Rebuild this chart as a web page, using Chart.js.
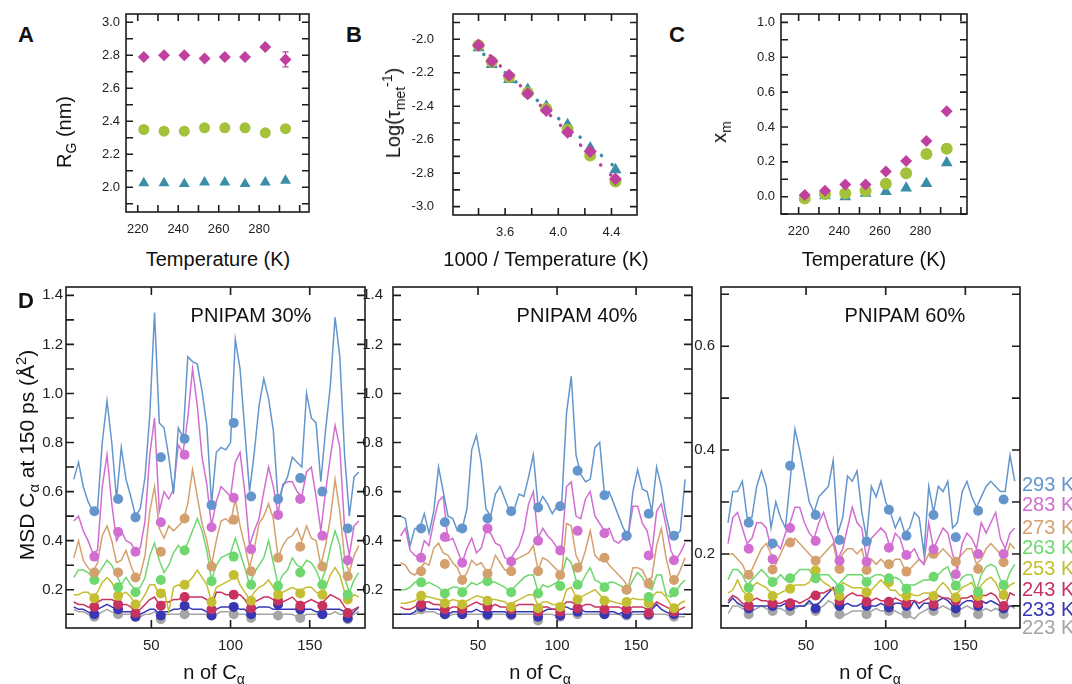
<!DOCTYPE html>
<html>
<head>
<meta charset="utf-8">
<script src="https://cdn.jsdelivr.net/npm/chart.js@4.4.1/dist/chart.umd.min.js"></script>
<style>
  body { margin: 0; width: 1072px; height: 684px; overflow: hidden; position: relative; background: #fff;
         font-family: "Liberation Sans", Arial, Helvetica, sans-serif; color: #111; }
  .panel { position: absolute; }
  .txt { position: absolute; white-space: nowrap; line-height: 1; }
  sub, sup { font-size: 0.7em; line-height: 0; }
</style>
</head>
<body>
<script>
// ---- top row: temperatures and the three series (diamond / circle / triangle)
const tempK = [223, 233, 243, 253, 263, 273, 283, 293];
const rgDiamond = [2.79, 2.80, 2.80, 2.78, 2.79, 2.79, 2.85, 2.775];
const rgDiamondErr = [0, 0, 0, 0, 0, 0, 0, 0.045];
const rgCircle = [2.35, 2.34, 2.34, 2.36, 2.36, 2.36, 2.33, 2.355];
const rgTriangle = [2.025, 2.025, 2.02, 2.03, 2.03, 2.02, 2.03, 2.04];

const invTemp = [3.40, 3.50, 3.63, 3.77, 3.91, 4.07, 4.24, 4.43];
const logDiamond = [-2.035, -2.13, -2.215, -2.325, -2.425, -2.555, -2.67, -2.835];
const logCircle = [-2.035, -2.135, -2.225, -2.32, -2.415, -2.54, -2.695, -2.85];
const logTriangle = [-2.05, -2.15, -2.24, -2.30, -2.40, -2.51, -2.65, -2.78];
const fitTriX = [3.44, 4.45], fitTriY = [-2.09, -2.78];
const fitDiaX = [3.45, 4.42], fitDiaY = [-2.07, -2.83];

const xmDiamond = [0.01, 0.035, 0.07, 0.07, 0.145, 0.205, 0.32, 0.49];
const xmCircle = [-0.01, 0.015, 0.02, 0.035, 0.075, 0.135, 0.245, 0.275];
const xmTriangle = [-0.005, 0.005, 0.0, 0.02, 0.03, 0.05, 0.075, 0.195];

// ---- panel D: residue index, marked residues, temperatures
const residues = [1,4,7,10,13,16,19,22,25,28, 31,34,37,40,43,46,49,52,55,58,
  61,64,67,70,73,76,79,82,85,88, 91,94,97,100,103,106,109,112,115,118,
  121,124,127,130,133,136,139,142,145,148, 151,154,157,160,163,166,169,172,175,178, 181];
const markerResidues = [14, 29, 40, 56, 71, 88, 102, 113, 130, 144, 158, 174];
const tempLabels = ['293 K', '283 K', '273 K', '263 K', '253 K', '243 K', '233 K', '223 K'];

// PNIPAM 30%
const p30_293 = [0.65,0.72,0.62,0.56,0.52,0.53,0.80,0.97,0.80,0.57, 0.78,0.65,0.58,0.50,0.53,0.66,0.91,1.33,0.88,0.86,
  0.74,0.59,0.86,0.82,1.15,1.13,1.12,1.01,0.87,0.55, 0.76,0.78,0.77,0.80,1.22,1.10,0.85,0.60,0.76,0.95,
  1.06,0.98,0.85,0.56,0.62,0.66,0.74,0.72,0.70,1.00, 0.90,0.88,0.64,0.85,1.03,1.31,1.15,0.75,0.50,0.66, 0.68];
const p30_283 = [0.48,0.50,0.44,0.40,0.35,0.36,0.62,0.75,0.55,0.40, 0.44,0.40,0.39,0.36,0.37,0.48,0.75,0.90,0.52,0.60,
  0.57,0.61,0.79,0.76,0.90,1.10,0.95,0.74,0.63,0.46, 0.56,0.62,0.60,0.58,0.72,0.76,0.60,0.38,0.44,0.49,
  0.60,0.70,0.62,0.51,0.63,0.64,0.64,0.60,0.58,0.68, 0.70,0.58,0.44,0.60,0.74,0.87,0.78,0.45,0.34,0.46, 0.48];
const p30_273 = [0.33,0.40,0.32,0.29,0.27,0.31,0.42,0.46,0.40,0.31, 0.32,0.36,0.30,0.25,0.26,0.34,0.52,0.62,0.45,0.41,
  0.46,0.44,0.46,0.48,0.55,0.69,0.58,0.47,0.40,0.30, 0.40,0.48,0.49,0.47,0.57,0.46,0.38,0.29,0.37,0.47,
  0.50,0.55,0.49,0.33,0.38,0.41,0.42,0.45,0.40,0.46, 0.41,0.40,0.30,0.38,0.49,0.65,0.52,0.33,0.27,0.34, 0.38];
const p30_263 = [0.25,0.28,0.28,0.27,0.25,0.26,0.29,0.32,0.30,0.26, 0.22,0.25,0.22,0.20,0.21,0.25,0.34,0.39,0.32,0.27,
  0.30,0.35,0.38,0.36,0.39,0.44,0.49,0.44,0.36,0.24, 0.30,0.33,0.34,0.35,0.41,0.35,0.29,0.22,0.27,0.30,
  0.33,0.40,0.31,0.22,0.26,0.28,0.33,0.30,0.29,0.32, 0.31,0.28,0.23,0.28,0.37,0.44,0.38,0.25,0.19,0.24, 0.27];
const p30_253 = [0.18,0.18,0.19,0.19,0.17,0.19,0.23,0.25,0.23,0.19, 0.18,0.19,0.17,0.14,0.15,0.18,0.22,0.22,0.18,0.20,
  0.11,0.21,0.22,0.21,0.23,0.25,0.28,0.25,0.22,0.15, 0.21,0.22,0.23,0.24,0.27,0.22,0.19,0.16,0.19,0.21,
  0.22,0.24,0.21,0.18,0.19,0.20,0.21,0.20,0.20,0.21, 0.21,0.19,0.18,0.21,0.26,0.29,0.26,0.19,0.16,0.18, 0.17];
const p30_243 = [0.15,0.14,0.14,0.13,0.13,0.15,0.16,0.16,0.16,0.15, 0.14,0.14,0.13,0.11,0.12,0.14,0.16,0.17,0.14,0.15,
  0.15,0.16,0.16,0.17,0.17,0.17,0.17,0.17,0.16,0.13, 0.19,0.19,0.18,0.18,0.18,0.18,0.16,0.13,0.15,0.16,
  0.17,0.17,0.16,0.15,0.15,0.16,0.17,0.15,0.14,0.15, 0.16,0.15,0.14,0.16,0.18,0.17,0.16,0.13,0.11,0.12, 0.13];
const p30_233 = [0.13,0.12,0.12,0.11,0.10,0.12,0.13,0.14,0.13,0.12, 0.11,0.11,0.11,0.09,0.10,0.11,0.12,0.12,0.10,0.11,
  0.11,0.12,0.12,0.13,0.13,0.12,0.12,0.12,0.11,0.09, 0.12,0.13,0.13,0.13,0.13,0.12,0.12,0.10,0.12,0.13,
  0.13,0.13,0.12,0.12,0.12,0.12,0.12,0.12,0.12,0.12, 0.12,0.11,0.11,0.12,0.12,0.12,0.12,0.11,0.09,0.11, 0.13];
const p30_223 = [0.12,0.11,0.11,0.10,0.09,0.10,0.11,0.12,0.11,0.10, 0.10,0.10,0.10,0.09,0.09,0.10,0.10,0.11,0.09,0.10,
  0.10,0.10,0.10,0.10,0.10,0.10,0.10,0.10,0.10,0.09, 0.10,0.11,0.11,0.11,0.10,0.10,0.10,0.09,0.10,0.10,
  0.10,0.10,0.10,0.09,0.10,0.10,0.10,0.09,0.09,0.10, 0.10,0.10,0.10,0.10,0.10,0.11,0.10,0.10,0.09,0.10, 0.11];
const m30_293 = [0.52,0.57,0.495,0.74,0.815,0.545,0.88,0.58,0.57,0.655,0.60,0.45];
const m30_283 = [0.335,0.435,0.355,0.475,0.75,0.455,0.575,0.365,0.505,0.57,0.42,0.32];
const m30_273 = [0.27,0.27,0.25,0.355,0.49,0.295,0.485,0.275,0.33,0.375,0.295,0.255];
const m30_263 = [0.24,0.21,0.19,0.24,0.36,0.235,0.335,0.22,0.215,0.27,0.22,0.18];
const m30_253 = [0.165,0.175,0.14,0.185,0.22,0.15,0.26,0.155,0.18,0.185,0.18,0.16];
const m30_243 = [0.13,0.14,0.105,0.135,0.17,0.12,0.18,0.125,0.155,0.135,0.135,0.105];
const m30_233 = [0.10,0.12,0.09,0.095,0.135,0.095,0.13,0.10,0.14,0.12,0.10,0.085];
const m30_223 = [0.09,0.10,0.09,0.08,0.10,0.095,0.10,0.085,0.095,0.085,0.10,0.08];

// PNIPAM 40%
const p40_293 = [0.50,0.49,0.38,0.45,0.45,0.51,0.43,0.52,0.70,0.60, 0.50,0.49,0.44,0.45,0.53,0.77,0.83,0.72,0.53,0.50,
  0.59,0.62,0.57,0.52,0.53,0.59,0.58,0.66,0.75,0.54, 0.58,0.55,0.51,0.54,0.56,0.92,1.07,0.75,0.67,0.64,
  0.65,0.78,0.80,0.59,0.60,0.55,0.50,0.45,0.42,0.60, 0.69,0.61,0.60,0.52,0.70,0.62,0.50,0.42,0.42,0.44, 0.65];
const p40_283 = [0.42,0.45,0.36,0.34,0.33,0.40,0.38,0.48,0.56,0.58, 0.40,0.41,0.36,0.31,0.37,0.41,0.35,0.37,0.44,0.43,
  0.39,0.38,0.33,0.32,0.35,0.38,0.44,0.55,0.60,0.41, 0.45,0.42,0.40,0.37,0.38,0.62,0.64,0.50,0.49,0.57,
  0.60,0.50,0.47,0.44,0.45,0.40,0.39,0.41,0.42,0.54, 0.54,0.47,0.44,0.35,0.52,0.55,0.46,0.36,0.32,0.35, 0.39];
const p40_273 = [0.31,0.30,0.27,0.26,0.28,0.31,0.30,0.37,0.39,0.35, 0.34,0.31,0.29,0.24,0.27,0.32,0.30,0.31,0.28,0.28,
  0.34,0.31,0.28,0.28,0.32,0.33,0.34,0.35,0.38,0.28, 0.33,0.32,0.30,0.28,0.27,0.47,0.46,0.34,0.30,0.36,
  0.44,0.34,0.32,0.33,0.30,0.28,0.26,0.24,0.21,0.29, 0.29,0.28,0.24,0.25,0.38,0.45,0.33,0.25,0.24,0.28, 0.33];
const p40_263 = [0.20,0.20,0.21,0.23,0.24,0.22,0.23,0.22,0.21,0.19, 0.20,0.21,0.21,0.19,0.21,0.23,0.22,0.23,0.24,0.23,
  0.23,0.22,0.21,0.19,0.21,0.23,0.25,0.26,0.26,0.19, 0.22,0.21,0.22,0.23,0.26,0.33,0.31,0.24,0.22,0.26,
  0.29,0.24,0.23,0.21,0.23,0.23,0.22,0.21,0.20,0.24, 0.27,0.25,0.21,0.20,0.26,0.26,0.18,0.17,0.19,0.22, 0.24];
const p40_253 = [0.145,0.145,0.15,0.155,0.17,0.175,0.17,0.165,0.16,0.155, 0.15,0.16,0.155,0.145,0.155,0.165,0.175,0.17,0.165,0.16,
  0.16,0.155,0.15,0.135,0.15,0.16,0.17,0.18,0.18,0.135, 0.15,0.15,0.14,0.14,0.14,0.20,0.21,0.17,0.17,0.18,
  0.19,0.20,0.18,0.16,0.155,0.15,0.145,0.14,0.155,0.165, 0.16,0.16,0.155,0.17,0.19,0.19,0.17,0.14,0.125,0.145, 0.155];
const p40_243 = [0.13,0.12,0.12,0.13,0.15,0.15,0.15,0.14,0.14,0.13, 0.12,0.13,0.13,0.12,0.13,0.14,0.15,0.14,0.14,0.13,
  0.14,0.13,0.13,0.12,0.13,0.14,0.14,0.14,0.14,0.11, 0.13,0.13,0.12,0.12,0.13,0.15,0.15,0.14,0.13,0.14,
  0.14,0.13,0.13,0.12,0.13,0.13,0.13,0.12,0.12,0.13, 0.13,0.13,0.12,0.13,0.15,0.14,0.13,0.12,0.11,0.12, 0.13];
const p40_233 = [0.10,0.10,0.10,0.11,0.13,0.13,0.12,0.12,0.12,0.11, 0.10,0.11,0.11,0.10,0.11,0.11,0.12,0.11,0.11,0.11,
  0.11,0.11,0.11,0.10,0.11,0.11,0.11,0.11,0.11,0.09, 0.11,0.12,0.12,0.12,0.13,0.13,0.12,0.12,0.12,0.11,
  0.11,0.11,0.11,0.10,0.11,0.11,0.10,0.11,0.10,0.11, 0.11,0.11,0.11,0.12,0.14,0.12,0.11,0.10,0.10,0.10, 0.10];
const p40_223 = [0.10,0.10,0.10,0.10,0.11,0.11,0.11,0.11,0.10,0.10, 0.09,0.10,0.10,0.09,0.10,0.10,0.10,0.10,0.10,0.10,
  0.10,0.10,0.10,0.09,0.10,0.10,0.10,0.10,0.10,0.08, 0.10,0.10,0.10,0.09,0.10,0.10,0.10,0.10,0.10,0.10,
  0.10,0.10,0.10,0.09,0.10,0.10,0.10,0.09,0.09,0.10, 0.10,0.10,0.10,0.10,0.10,0.10,0.10,0.09,0.09,0.09, 0.09];
const m40_293 = [0.45,0.475,0.45,0.49,0.52,0.535,0.54,0.685,0.585,0.42,0.51,0.42];
const m40_283 = [0.33,0.415,0.31,0.45,0.315,0.40,0.36,0.44,0.43,0.42,0.34,0.32];
const m40_273 = [0.275,0.305,0.24,0.265,0.275,0.275,0.26,0.29,0.33,0.20,0.225,0.24];
const m40_263 = [0.23,0.185,0.19,0.235,0.19,0.185,0.215,0.22,0.21,0.20,0.17,0.19];
const m40_253 = [0.175,0.145,0.14,0.155,0.13,0.125,0.13,0.16,0.155,0.15,0.145,0.125];
const m40_243 = [0.14,0.12,0.12,0.13,0.12,0.11,0.11,0.125,0.12,0.12,0.105,0.11];
const m40_233 = [0.13,0.10,0.10,0.10,0.10,0.09,0.095,0.11,0.10,0.10,0.10,0.10];
const m40_223 = [0.12,0.10,0.10,0.095,0.095,0.075,0.09,0.10,0.10,0.095,0.095,0.09];

// PNIPAM 60%
const p60_293 = [0.26,0.32,0.32,0.34,0.27,0.27,0.33,0.36,0.33,0.25, 0.30,0.27,0.25,0.34,0.44,0.40,0.35,0.30,0.28,0.31,
  0.32,0.33,0.38,0.24,0.27,0.35,0.34,0.36,0.28,0.23, 0.33,0.31,0.34,0.30,0.28,0.25,0.27,0.24,0.25,0.28,
  0.27,0.20,0.33,0.28,0.33,0.32,0.34,0.25,0.26,0.32, 0.34,0.31,0.29,0.31,0.33,0.34,0.33,0.32,0.32,0.39, 0.34];
const p60_283 = [0.22,0.27,0.28,0.25,0.22,0.23,0.26,0.26,0.25,0.21, 0.22,0.21,0.24,0.26,0.29,0.29,0.26,0.24,0.23,0.26,
  0.28,0.25,0.23,0.19,0.21,0.25,0.29,0.26,0.25,0.19, 0.23,0.24,0.25,0.24,0.21,0.24,0.23,0.20,0.20,0.21,
  0.19,0.18,0.26,0.21,0.23,0.25,0.24,0.20,0.17,0.22, 0.24,0.23,0.21,0.26,0.24,0.26,0.28,0.23,0.21,0.24, 0.25];
const p60_273 = [0.20,0.20,0.19,0.18,0.16,0.17,0.19,0.21,0.22,0.20, 0.18,0.20,0.22,0.22,0.23,0.22,0.21,0.20,0.19,0.19,
  0.20,0.21,0.22,0.18,0.20,0.21,0.21,0.20,0.21,0.17, 0.19,0.18,0.19,0.18,0.18,0.19,0.19,0.17,0.17,0.18,
  0.19,0.18,0.20,0.20,0.20,0.21,0.20,0.19,0.19,0.20, 0.21,0.21,0.18,0.19,0.21,0.22,0.21,0.20,0.19,0.22, 0.21];
const p60_263 = [0.15,0.17,0.17,0.16,0.14,0.15,0.16,0.17,0.16,0.15, 0.15,0.16,0.15,0.15,0.16,0.17,0.17,0.17,0.155,0.16,
  0.16,0.16,0.15,0.14,0.15,0.16,0.16,0.16,0.16,0.145, 0.155,0.16,0.16,0.155,0.15,0.155,0.15,0.135,0.14,0.14,
  0.145,0.15,0.15,0.155,0.16,0.17,0.175,0.15,0.14,0.155, 0.16,0.16,0.13,0.16,0.175,0.18,0.175,0.15,0.14,0.165, 0.18];
const p60_253 = [0.125,0.13,0.15,0.13,0.12,0.135,0.145,0.14,0.135,0.125, 0.12,0.125,0.13,0.135,0.14,0.14,0.14,0.145,0.165,0.155,
  0.145,0.14,0.13,0.12,0.145,0.14,0.135,0.135,0.135,0.12, 0.13,0.14,0.15,0.14,0.13,0.13,0.12,0.12,0.125,0.12,
  0.12,0.125,0.125,0.12,0.135,0.145,0.135,0.12,0.125,0.135, 0.14,0.145,0.125,0.14,0.15,0.155,0.145,0.125,0.13,0.14, 0.145];
const p60_243 = [0.11,0.12,0.115,0.105,0.10,0.11,0.115,0.11,0.11,0.105, 0.105,0.105,0.11,0.105,0.11,0.105,0.11,0.115,0.125,0.125,
  0.125,0.13,0.135,0.115,0.11,0.12,0.125,0.12,0.12,0.11, 0.11,0.115,0.11,0.11,0.11,0.115,0.11,0.105,0.11,0.11,
  0.105,0.11,0.115,0.105,0.12,0.115,0.115,0.11,0.11,0.115, 0.115,0.12,0.105,0.12,0.12,0.125,0.12,0.105,0.10,0.125, 0.12];
const p60_233 = [0.105,0.115,0.105,0.10,0.095,0.10,0.10,0.10,0.10,0.10, 0.10,0.10,0.105,0.10,0.10,0.10,0.10,0.11,0.10,0.105,
  0.115,0.125,0.135,0.105,0.10,0.105,0.10,0.10,0.105,0.10, 0.10,0.10,0.105,0.10,0.10,0.105,0.105,0.10,0.095,0.11,
  0.095,0.105,0.105,0.10,0.11,0.115,0.11,0.10,0.095,0.105, 0.11,0.11,0.10,0.11,0.105,0.11,0.105,0.10,0.095,0.10, 0.10];
const p60_223 = [0.085,0.10,0.10,0.095,0.09,0.09,0.095,0.10,0.095,0.09, 0.095,0.095,0.09,0.09,0.095,0.10,0.10,0.105,0.10,0.095,
  0.10,0.11,0.105,0.09,0.08,0.085,0.09,0.09,0.09,0.085, 0.09,0.095,0.09,0.09,0.09,0.09,0.085,0.085,0.08,0.075,
  0.085,0.09,0.095,0.09,0.095,0.10,0.095,0.09,0.09,0.095, 0.10,0.095,0.09,0.09,0.095,0.09,0.095,0.09,0.085,0.10, 0.095];
const m60_293 = [0.26,0.22,0.37,0.275,0.227,0.224,0.285,0.235,0.275,0.232,0.283,0.305];
const m60_283 = [0.21,0.19,0.25,0.225,0.187,0.185,0.212,0.198,0.209,0.161,0.20,0.20];
const m60_273 = [0.16,0.17,0.222,0.187,0.171,0.169,0.18,0.166,0.20,0.185,0.171,0.184];
const m60_263 = [0.135,0.146,0.153,0.153,0.133,0.146,0.153,0.133,0.156,0.139,0.127,0.14];
const m60_253 = [0.116,0.119,0.133,0.168,0.119,0.126,0.145,0.119,0.119,0.116,0.119,0.121];
const m60_243 = [0.10,0.105,0.105,0.12,0.11,0.108,0.108,0.105,0.103,0.11,0.105,0.10];
const m60_233 = [0.095,0.10,0.10,0.095,0.10,0.10,0.097,0.10,0.10,0.095,0.10,0.095];
const m60_223 = [0.084,0.09,0.09,0.09,0.084,0.084,0.09,0.085,0.09,0.087,0.084,0.084];

// ---- styles
const MAG = '#bf409f', GRN = '#a3c13b', TEAL = '#3a8ea6';
const tempColors = ['#6496cd', '#d26ed2', '#d4a06e', '#6ed76e', '#c3be32', '#c8325f', '#3737b4', '#a5a5a5'];
const FONT = '"Liberation Sans", Arial, Helvetica, sans-serif';
const PAD_L = 60, PAD_T = 12, PAD_R = 12, PAD_B = 34;

Chart.defaults.font.family = FONT;
Chart.defaults.color = '#222';
Chart.defaults.animation = false;

// frame with inward ticks on all four sides
const framePlugin = {
  id: 'frame',
  afterDatasetsDraw(chart, args, o) {
    if (!o.xMarks) return;
    const { ctx, chartArea: a, scales: { x, y } } = chart;
    ctx.save();
    ctx.strokeStyle = '#1c1c1c';
    ctx.lineWidth = 1.6;
    ctx.strokeRect(a.left, a.top, a.right - a.left, a.bottom - a.top);
    ctx.beginPath();
    o.xMarks.forEach(v => {
      const p = x.getPixelForValue(v);
      ctx.moveTo(p, a.bottom); ctx.lineTo(p, a.bottom - o.len);
      ctx.moveTo(p, a.top); ctx.lineTo(p, a.top + o.len);
    });
    o.yMarks.forEach(v => {
      const p = y.getPixelForValue(v);
      ctx.moveTo(a.left, p); ctx.lineTo(a.left + o.len, p);
      ctx.moveTo(a.right, p); ctx.lineTo(a.right - o.len, p);
    });
    ctx.stroke();
    ctx.restore();
  }
};

// vertical error bars for datasets carrying yErr
const errorBarPlugin = {
  id: 'errorBars',
  afterDatasetsDraw(chart) {
    const ctx = chart.ctx, y = chart.scales.y;
    chart.data.datasets.forEach((ds, i) => {
      if (!ds.yErr) return;
      const meta = chart.getDatasetMeta(i);
      ctx.save();
      ctx.strokeStyle = ds.pointBackgroundColor;
      ctx.lineWidth = 1.2;
      meta.data.forEach((pt, j) => {
        const e = ds.yErr[j];
        if (!e) return;
        const v = ds.data[j].y;
        const top = y.getPixelForValue(v + e), bot = y.getPixelForValue(v - e);
        ctx.beginPath();
        ctx.moveTo(pt.x, top); ctx.lineTo(pt.x, bot);
        ctx.moveTo(pt.x - 3, top); ctx.lineTo(pt.x + 3, top);
        ctx.moveTo(pt.x - 3, bot); ctx.lineTo(pt.x + 3, bot);
        ctx.stroke();
      });
      ctx.restore();
    });
  }
};
Chart.register(framePlugin, errorBarPlugin);

function pts(xs, ys) {
  return xs.map((v, i) => ({ x: v, y: ys[i] }));
}

function range(a, b, step) {
  const out = [];
  for (let v = a; v <= b + step / 2; v += step) out.push(Math.round(v * 1000) / 1000);
  return out;
}

function panelOptions(o) {
  return {
    responsive: true,
    maintainAspectRatio: false,
    events: [],
    layout: { padding: { left: 0, top: PAD_T, right: PAD_R, bottom: 0 } },
    plugins: {
      legend: { display: false },
      tooltip: { enabled: false },
      frame: { xMarks: o.xMarks, yMarks: o.yMarks, len: o.len || 7 }
    },
    scales: {
      x: {
        type: 'linear', min: o.xMin, max: o.xMax,
        grid: { display: false, drawTicks: false, tickLength: 0 },
        border: { display: false },
        afterBuildTicks: s => { s.ticks = o.xLabels.map(v => ({ value: v })); },
        afterFit: s => { s.height = PAD_B; s.paddingLeft = 0; s.paddingRight = 0; },
        ticks: { autoSkip: false, maxRotation: 0, padding: o.xPad, color: '#222',
                 font: { size: o.fs }, callback: v => o.xFmt(v) }
      },
      y: {
        type: 'linear', min: o.yMin, max: o.yMax,
        grid: { display: false, drawTicks: false, tickLength: 0 },
        border: { display: false },
        afterBuildTicks: s => { s.ticks = o.yLabels.map(v => ({ value: v })); },
        afterFit: s => { s.width = PAD_L; s.paddingTop = 0; s.paddingBottom = 0; },
        ticks: { autoSkip: false, padding: o.yPad, color: '#222',
                 font: { size: o.fs }, callback: v => v.toFixed(1) }
      }
    }
  };
}

function makePanel(box, cfg) {
  const div = document.createElement('div');
  div.className = 'panel';
  div.style.left = (box[0] - PAD_L) + 'px';
  div.style.top = (box[1] - PAD_T) + 'px';
  div.style.width = (box[2] - box[0] + PAD_L + PAD_R) + 'px';
  div.style.height = (box[3] - box[1] + PAD_T + PAD_B) + 'px';
  const canvas = document.createElement('canvas');
  div.appendChild(canvas);
  document.body.appendChild(div);
  return new Chart(canvas, cfg);
}

function addText(html, x, y, opt) {
  const el = document.createElement('div');
  el.className = 'txt';
  el.innerHTML = html;
  el.style.left = x + 'px';
  el.style.top = y + 'px';
  el.style.fontSize = (opt.size || 20) + 'px';
  if (opt.bold) el.style.fontWeight = 'bold';
  if (opt.color) el.style.color = opt.color;
  el.style.transform = opt.rotate ? 'translate(-50%,-50%) rotate(-90deg)'
    : (opt.left ? 'translate(0,-50%)' : 'translate(-50%,-50%)');
  document.body.appendChild(el);
}

function markerSet(xs, ys, color, r, style, order) {
  return { data: pts(xs, ys), pointStyle: style, pointRadius: r, pointBackgroundColor: color,
           pointBorderWidth: 0, showLine: false, order: order };
}

const intFmt = v => String(Math.round(v));
const oneFmt = v => v.toFixed(1);

// ---- A
makePanel([126, 14, 309, 212], {
  type: 'scatter',
  data: { datasets: [
    Object.assign(markerSet(tempK, rgDiamond, MAG, 6, 'rectRot', 0), { yErr: rgDiamondErr }),
    markerSet(tempK, rgCircle, GRN, 5.5, 'circle', 1),
    markerSet(tempK, rgTriangle, TEAL, 6.3, 'triangle', 2)
  ]},
  options: panelOptions({ xMin: 214.2, xMax: 304.6, yMin: 1.85, yMax: 3.05,
    xLabels: [220, 240, 260, 280], yLabels: range(2.0, 3.0, 0.2),
    xMarks: range(220, 300, 10), yMarks: range(1.9, 3.0, 0.1),
    fs: 13, xPad: 10, yPad: 6, xFmt: intFmt })
});

// ---- B
makePanel([453, 14, 637, 215], {
  type: 'scatter',
  data: { datasets: [
    markerSet(invTemp, logDiamond, MAG, 6.5, 'rectRot', 0),
    markerSet(invTemp, logCircle, GRN, 6, 'circle', 1),
    markerSet(invTemp, logTriangle, TEAL, 7, 'triangle', 2),
    { data: pts(fitTriX, fitTriY), showLine: true, pointRadius: 0, borderColor: TEAL, borderWidth: 3.5,
      borderDash: [0.1, 14], borderCapStyle: 'round', order: 3 },
    { data: pts(fitDiaX, fitDiaY), showLine: true, pointRadius: 0, borderColor: MAG, borderWidth: 3.5,
      borderDash: [0.1, 14], borderDashOffset: 7, borderCapStyle: 'round', order: 3 }
  ]},
  options: panelOptions({ xMin: 3.208, xMax: 4.592, yMin: -3.05, yMax: -1.849,
    xLabels: [3.6, 4.0, 4.4], yLabels: range(-3.0, -2.0, 0.2),
    xMarks: range(3.4, 4.4, 0.2), yMarks: range(-3.0, -1.9, 0.1),
    fs: 13, xPad: 10, yPad: 19, xFmt: oneFmt })
});

// ---- C
makePanel([781, 14, 967, 214], {
  type: 'scatter',
  data: { datasets: [
    markerSet(tempK, xmDiamond, MAG, 6, 'rectRot', 0),
    markerSet(tempK, xmCircle, GRN, 6, 'circle', 1),
    markerSet(tempK, xmTriangle, TEAL, 6.8, 'triangle', 2)
  ]},
  options: panelOptions({ xMin: 211.3, xMax: 303, yMin: -0.099, yMax: 1.048,
    xLabels: [220, 240, 260, 280], yLabels: range(0.0, 1.0, 0.2),
    xMarks: range(220, 300, 10), yMarks: range(-0.1, 1.0, 0.1),
    fs: 13, xPad: 10, yPad: 6, xFmt: intFmt })
});

// ---- D
function msdDatasets(lines, marks) {
  const sets = [];
  lines.forEach((vals, i) => {
    sets.push({ data: pts(residues, vals), showLine: true, pointRadius: 0, borderColor: tempColors[i],
                borderWidth: 1.5, order: 20 + i });
    sets.push(markerSet(markerResidues, marks[i], tempColors[i], 5, 'circle', i));
  });
  return sets;
}

const msd30 = [p30_293, p30_283, p30_273, p30_263, p30_253, p30_243, p30_233, p30_223];
const mk30 = [m30_293, m30_283, m30_273, m30_263, m30_253, m30_243, m30_233, m30_223];
const msd40 = [p40_293, p40_283, p40_273, p40_263, p40_253, p40_243, p40_233, p40_223];
const mk40 = [m40_293, m40_283, m40_273, m40_263, m40_253, m40_243, m40_233, m40_223];
const msd60 = [p60_293, p60_283, p60_273, p60_263, p60_253, p60_243, p60_233, p60_223];
const mk60 = [m60_293, m60_283, m60_273, m60_263, m60_253, m60_243, m60_233, m60_223];

makePanel([66, 287, 365, 628], {
  type: 'scatter',
  data: { datasets: msdDatasets(msd30, mk30) },
  options: panelOptions({ xMin: -3.9, xMax: 184.9, yMin: 0.044, yMax: 1.434,
    xLabels: [50, 100, 150], yLabels: range(0.2, 1.4, 0.2),
    xMarks: [50, 100, 150], yMarks: range(0.1, 1.4, 0.1),
    fs: 15, xPad: 9, yPad: 3, xFmt: intFmt, len: 8 })
});

makePanel([393, 287, 692, 628], {
  type: 'scatter',
  data: { datasets: msdDatasets(msd40, mk40) },
  options: panelOptions({ xMin: -3.8, xMax: 185.4, yMin: 0.044, yMax: 1.434,
    xLabels: [50, 100, 150], yLabels: range(0.2, 1.4, 0.2),
    xMarks: [50, 100, 150], yMarks: range(0.1, 1.4, 0.1),
    fs: 15, xPad: 9, yPad: 10, xFmt: intFmt, len: 8 })
});

makePanel([721, 287, 1020, 628], {
  type: 'scatter',
  data: { datasets: msdDatasets(msd60, mk60) },
  options: panelOptions({ xMin: -3.4, xMax: 184.3, yMin: 0.0574, yMax: 0.714,
    xLabels: [50, 100, 150], yLabels: [0.2, 0.4, 0.6],
    xMarks: [50, 100, 150], yMarks: range(0.1, 0.7, 0.1),
    fs: 15, xPad: 9, yPad: 6, xFmt: intFmt, len: 8 })
});

// ---- text
addText('A', 18, 35, { size: 22, bold: true, left: true });
addText('B', 346, 35, { size: 22, bold: true, left: true });
addText('C', 669, 35, { size: 22, bold: true, left: true });
addText('D', 18, 301, { size: 22, bold: true, left: true });

addText('R<sub>G</sub> (nm)', 64, 132, { rotate: true });
addText('Log(τ<sub>met</sub><sup>-1</sup>)', 393, 113, { rotate: true });
addText('x<sub>m</sub>', 719, 132, { rotate: true });
addText('MSD C<sub>α</sub> at 150 ps (Å<sup>2</sup>)', 26, 455, { size: 21, rotate: true });

addText('Temperature (K)', 218, 259, {});
addText('1000 / Temperature (K)', 546, 259, {});
addText('Temperature (K)', 874, 259, {});
addText('n of C<sub>α</sub>', 214, 672, {});
addText('n of C<sub>α</sub>', 540, 672, {});
addText('n of C<sub>α</sub>', 870, 672, {});

addText('PNIPAM 30%', 251, 315, {});
addText('PNIPAM 40%', 577, 315, {});
addText('PNIPAM 60%', 905, 315, {});

const legendY = [484, 504, 527, 547, 568, 589, 609, 627];
tempLabels.forEach((t, i) => addText(t, 1022, legendY[i], { color: tempColors[i], left: true }));
</script>
</body>
</html>
